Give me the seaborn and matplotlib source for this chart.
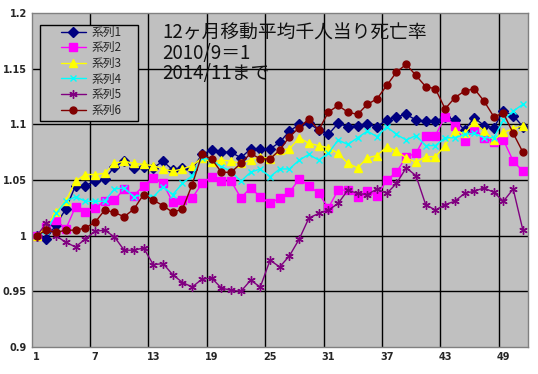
import numpy as np
import pandas as pd
import matplotlib
matplotlib.use("Agg")
import matplotlib.pyplot as plt
from matplotlib.patches import Rectangle
import seaborn as sns

months = list(range(1, 52))

s1 = [1.0, 0.997, 1.010, 1.024, 1.045, 1.045, 1.049, 1.051, 1.062, 1.067,
      1.061, 1.062, 1.061, 1.067, 1.059, 1.061, 1.060, 1.073, 1.077, 1.075,
      1.075, 1.070, 1.078, 1.078, 1.078, 1.084, 1.094, 1.100, 1.101, 1.095,
      1.091, 1.101, 1.098, 1.099, 1.100, 1.098, 1.104, 1.107, 1.109, 1.104,
      1.103, 1.103, 1.107, 1.104, 1.095, 1.106, 1.099, 1.097, 1.112, 1.108,
      1.098]
s2 = [1.0, 1.008, 1.014, 1.006, 1.026, 1.021, 1.025, 1.031, 1.032, 1.042,
      1.036, 1.045, 1.052, 1.047, 1.030, 1.032, 1.034, 1.047, 1.053, 1.049,
      1.049, 1.034, 1.043, 1.035, 1.029, 1.034, 1.039, 1.051, 1.045, 1.038,
      1.025, 1.041, 1.041, 1.035, 1.040, 1.036, 1.050, 1.057, 1.071, 1.074,
      1.090, 1.090, 1.107, 1.099, 1.085, 1.096, 1.088, 1.084, 1.086, 1.067,
      1.058]
s3 = [1.0, 1.008, 1.021, 1.031, 1.049, 1.055, 1.055, 1.056, 1.065, 1.067,
      1.065, 1.064, 1.063, 1.060, 1.058, 1.060, 1.063, 1.070, 1.066, 1.068,
      1.067, 1.065, 1.068, 1.071, 1.069, 1.077, 1.078, 1.088, 1.083, 1.081,
      1.079, 1.074, 1.065, 1.061, 1.070, 1.072, 1.080, 1.076, 1.070, 1.066,
      1.071, 1.071, 1.081, 1.094, 1.092, 1.102, 1.094, 1.086, 1.093, 1.096,
      1.099]
s4 = [1.0, 1.004, 1.020, 1.031, 1.035, 1.031, 1.031, 1.031, 1.042, 1.043,
      1.035, 1.037, 1.035, 1.044, 1.037, 1.047, 1.054, 1.070, 1.068, 1.062,
      1.058, 1.049, 1.057, 1.060, 1.053, 1.060, 1.060, 1.068, 1.073, 1.068,
      1.074, 1.086, 1.082, 1.088, 1.094, 1.089, 1.098, 1.091, 1.086, 1.090,
      1.081, 1.081, 1.088, 1.088, 1.091, 1.092, 1.088, 1.088, 1.104, 1.112,
      1.118]
s5 = [1.0, 1.011, 1.000, 0.994, 0.990, 0.997, 1.004, 1.005, 0.999, 0.987,
      0.987, 0.989, 0.974, 0.975, 0.965, 0.958, 0.954, 0.961, 0.962, 0.953,
      0.951, 0.950, 0.960, 0.954, 0.978, 0.972, 0.982, 0.997, 1.016, 1.020,
      1.023, 1.029, 1.041, 1.038, 1.037, 1.042, 1.038, 1.047, 1.061, 1.054,
      1.028, 1.023, 1.028, 1.031, 1.038, 1.040, 1.043, 1.039, 1.031, 1.042,
      1.005]
s6 = [1.0, 1.005, 1.003, 1.005, 1.005, 1.007, 1.012, 1.023, 1.021, 1.017,
      1.024, 1.037, 1.032, 1.027, 1.021, 1.024, 1.046, 1.073, 1.069, 1.057,
      1.057, 1.065, 1.074, 1.069, 1.069, 1.077, 1.089, 1.097, 1.105, 1.095,
      1.111, 1.117, 1.111, 1.109, 1.118, 1.123, 1.135, 1.147, 1.154, 1.144,
      1.134, 1.132, 1.114, 1.124, 1.130, 1.132, 1.121, 1.107, 1.110, 1.092,
      1.075]

names = ["系列1", "系列2", "系列3", "系列4", "系列5", "系列6"]
colors = ["#000080", "#FF00FF", "#FFFF00", "#00FFFF", "#800080", "#800000"]
markers = ["D", "s", "^", "x", (6, 2, 0), "o"]
sizes = [5, 6, 6, 5, 6, 5]
x_ticks = [1, 7, 13, 19, 25, 31, 37, 43, 49]
title_text = "12ヶ月移動平均千人当り死亡率\n2010/9＝1\n2014/11まで"

df = pd.DataFrame({"month": months, "系列1": s1, "系列2": s2, "系列3": s3,
                   "系列4": s4, "系列5": s5, "系列6": s6})

sns.set_style("white")
plt.rcParams["font.family"] = ["Noto Sans CJK JP", "DejaVu Sans"]

fig = plt.figure(figsize=(5.38, 3.74), dpi=100)
ax = fig.add_axes([0.059, 0.072, 0.922, 0.893])
ax.set_facecolor("#C0C0C0")

for name, c, m, ms in zip(names, colors, markers, sizes):
    sns.lineplot(data=df, x="month", y=name, ax=ax, color=c, marker=m,
                 markersize=ms, markeredgecolor=c, markeredgewidth=1,
                 linewidth=1, label=name)

ax.set_xlim(0.5, 51.5)
ax.set_ylim(0.9, 1.2)
ax.set_xticks(x_ticks)
ax.set_xticklabels([str(t) for t in x_ticks])
ax.set_yticks([0.9, 0.95, 1.0, 1.05, 1.1, 1.15, 1.2])
ax.set_yticklabels(["0.9", "0.95", "1", "1.05", "1.1", "1.15", "1.2"])
ax.tick_params(length=0, labelsize=7)
for lab in ax.get_xticklabels() + ax.get_yticklabels():
    lab.set_fontfamily("DejaVu Sans")
    lab.set_fontweight("bold")
ax.set_xlabel("")
ax.set_ylabel("")

for yv in [0.95, 1.0, 1.05, 1.1, 1.15]:
    ax.axhline(yv, color="black", lw=1, zorder=0.5)
for xv in np.arange(6.5, 51, 6):
    ax.axvline(xv, color="black", lw=1, zorder=0.5)
for sp in ax.spines.values():
    sp.set_color("#808080")
    sp.set_linewidth(1)

# legend box drawn separately so the padding can match the original
ax.add_patch(Rectangle((0.0167, 0.677), 0.197, 0.287, transform=ax.transAxes,
                       facecolor="#C0C0C0", edgecolor="black", lw=1, zorder=4))
leg = ax.legend(loc="upper left", bbox_to_anchor=(0.058, 0.962),
                frameon=False, fontsize=8.5, handlelength=2.2,
                handletextpad=0.4, labelspacing=0.22, borderpad=0,
                borderaxespad=0)
leg.set_zorder(5)

ax.text(0.264, 0.88, title_text, transform=ax.transAxes, fontsize=13.5,
        va="center", ha="left", multialignment="left", linespacing=0.95,
        color="#111111")

fig.savefig("out.png", dpi=100)
